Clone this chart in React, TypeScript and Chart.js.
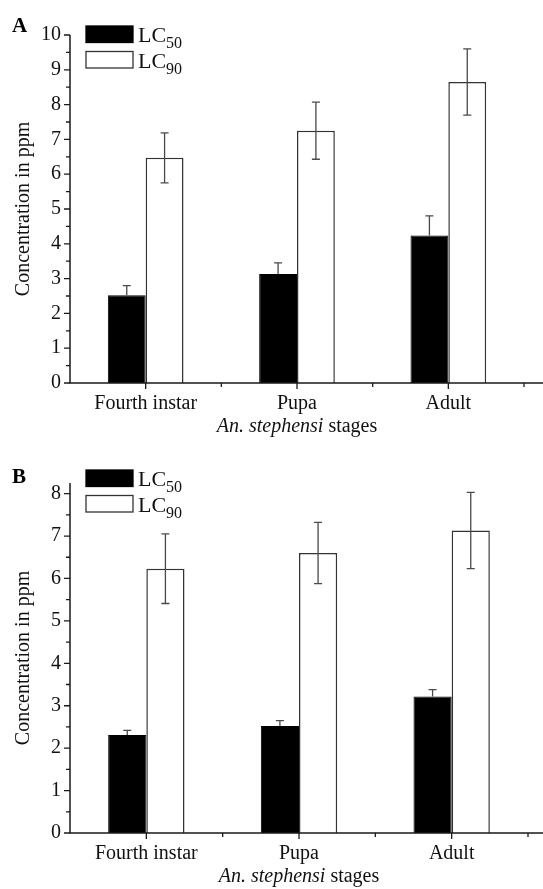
import React, { useEffect, useRef } from 'react';
import { Chart, registerables } from 'chart.js';

Chart.register(...registerables);

// ---- data ----
const categories = ['Fourth instar', 'Pupa', 'Adult'];
const seriesNames = ['50', '90']; // LC subscripts

const aLC50 = [2.52, 3.13, 4.24];
const aLC50Err = [0.28, 0.32, 0.56];
const aLC90 = [6.47, 7.25, 8.65];
const aLC90Err = [0.72, 0.82, 0.95];

const bLC50 = [2.31, 2.52, 3.22];
const bLC50Err = [0.11, 0.13, 0.16];
const bLC90 = [6.23, 6.6, 7.13];
const bLC90Err = [0.82, 0.72, 0.9];

const aYMax = 10;
const bYMax = 8.25;
const yStepMinor = 0.5;

const yTitle = 'Concentration in ppm';
const xTitleItalic = 'An. stephensi';
const xTitleNormal = ' stages';

const SERIF = '"Liberation Serif", "Times New Roman", serif';
const W = 543;

type PanelProps = {
  letter: string;
  lc50: number[];
  lc50Err: number[];
  lc90: number[];
  lc90Err: number[];
  yMax: number;
  height: number;
  chartTop: number;
  chartBottom: number;
  chartRight: number;
  letterBaseline: number;
  legendTop: number;
};

function makeDecor(p: PanelProps) {
  return {
    id: 'decor' + p.letter,
    afterDatasetsDraw(chart: any) {
      const ctx = chart.ctx;
      // error bars
      chart.data.datasets.forEach((ds: any, di: number) => {
        const meta = chart.getDatasetMeta(di);
        const ys = chart.scales.y;
        ds.data.forEach((v: number, j: number) => {
          const e = ds.errors[j];
          const bar = meta.data[j];
          const x = bar.x;
          const yTop = ys.getPixelForValue(v + e);
          const yBot = ds.filled ? ys.getPixelForValue(v) : ys.getPixelForValue(v - e);
          ctx.save();
          ctx.strokeStyle = '#4a4a4a';
          ctx.lineWidth = 1.3;
          ctx.beginPath();
          ctx.moveTo(x, yTop);
          ctx.lineTo(x, yBot);
          ctx.moveTo(x - 4, yTop);
          ctx.lineTo(x + 4, yTop);
          if (!ds.filled) {
            ctx.moveTo(x - 4, yBot);
            ctx.lineTo(x + 4, yBot);
          }
          ctx.stroke();
          ctx.restore();
        });
      });
    },
    afterDraw(chart: any) {
      const ctx = chart.ctx;
      const xs = chart.scales.x;
      const ys = chart.scales.y;
      const area = chart.chartArea;
      ctx.save();
      ctx.strokeStyle = '#1a1a1a';
      ctx.lineWidth = 1.5;
      // axis lines
      ctx.beginPath();
      ctx.moveTo(area.left, area.top);
      ctx.lineTo(area.left, area.bottom);
      ctx.lineTo(W, area.bottom);
      ctx.stroke();
      // y ticks
      ctx.lineWidth = 1.3;
      ctx.beginPath();
      ys.ticks.forEach((t: any) => {
        const v = t.value;
        if (Math.abs(v / yStepMinor - Math.round(v / yStepMinor)) > 1e-6) return;
        const y = ys.getPixelForValue(v);
        const len = Number.isInteger(v) ? 6 : 4;
        ctx.moveTo(area.left - len, y);
        ctx.lineTo(area.left, y);
      });
      // x ticks
      const n = chart.data.labels.length;
      for (let i = 0; i < n; i++) {
        const c = xs.getPixelForValue(i);
        ctx.moveTo(c, area.bottom);
        ctx.lineTo(c, area.bottom + 6);
        const b = xs.getPixelForValue(i + 0.5);
        ctx.moveTo(b, area.bottom);
        ctx.lineTo(b, area.bottom + 4);
      }
      ctx.stroke();
      ctx.restore();

      // x title with mixed styles
      ctx.save();
      ctx.fillStyle = '#111';
      ctx.textBaseline = 'middle';
      const fontI = `italic 20px ${SERIF}`;
      const fontN = `20px ${SERIF}`;
      ctx.font = fontI;
      const wI = ctx.measureText(xTitleItalic).width;
      ctx.font = fontN;
      const wN = ctx.measureText(xTitleNormal).width;
      const cx = (area.left + area.right) / 2;
      const ty = area.bottom + 44;
      const sx = cx - (wI + wN) / 2;
      ctx.textAlign = 'left';
      ctx.font = fontI;
      ctx.fillText(xTitleItalic, sx, ty);
      ctx.font = fontN;
      ctx.fillText(xTitleNormal, sx + wI, ty);
      ctx.restore();

      // legend
      ctx.save();
      const lx = area.left + 16;
      chart.data.datasets.forEach((ds: any, di: number) => {
        const ry = p.legendTop + di * 25.5;
        ctx.fillStyle = ds.filled ? '#000' : '#fff';
        ctx.fillRect(lx, ry, 47, 16.5);
        ctx.strokeStyle = ds.filled ? '#000' : '#333';
        ctx.lineWidth = 1.3;
        ctx.strokeRect(lx, ry, 47, 16.5);
        ctx.fillStyle = '#111';
        ctx.textAlign = 'left';
        ctx.textBaseline = 'alphabetic';
        ctx.font = `22px ${SERIF}`;
        const base = ry + 16;
        ctx.fillText('LC', lx + 52, base);
        const wl = ctx.measureText('LC').width;
        ctx.font = `16px ${SERIF}`;
        ctx.fillText(seriesNames[di], lx + 52 + wl, base + 6);
      });
      // panel letter
      ctx.fillStyle = '#000';
      ctx.font = `bold 21px ${SERIF}`;
      ctx.textAlign = 'left';
      ctx.textBaseline = 'alphabetic';
      ctx.fillText(p.letter, 12, p.letterBaseline);
      ctx.restore();
    },
  };
}

function Panel(p: PanelProps) {
  const ref = useRef<HTMLCanvasElement>(null);
  useEffect(() => {
    const canvas = ref.current!;
    const font = { family: SERIF, size: 20 };
    const chart = new Chart(canvas, {
      type: 'bar',
      data: {
        labels: categories,
        datasets: [
          {
            label: 'LC50',
            data: p.lc50,
            errors: p.lc50Err,
            filled: true,
            backgroundColor: '#000',
            borderColor: '#000',
            borderWidth: 1,
            barPercentage: 1,
            categoryPercentage: 0.5,
          } as any,
          {
            label: 'LC90',
            data: p.lc90,
            errors: p.lc90Err,
            filled: false,
            backgroundColor: '#fff',
            borderColor: '#333',
            borderWidth: 1.5,
            barPercentage: 1,
            categoryPercentage: 0.5,
          } as any,
        ],
      },
      options: {
        responsive: false,
        maintainAspectRatio: false,
        animation: false,
        events: [],
        layout: { padding: { left: 0, top: p.chartTop, right: W - p.chartRight, bottom: 0 } },
        plugins: { legend: { display: false }, tooltip: { enabled: false } },
        scales: {
          x: {
            grid: { display: false, drawTicks: false },
            border: { display: false },
            ticks: { font, color: '#111', padding: 9, autoSkip: false, maxRotation: 0 },
            afterFit: (s: any) => {
              s.height = p.height - p.chartBottom;
            },
          },
          y: {
            min: 0,
            max: p.yMax,
            grid: { display: false, drawTicks: false },
            border: { display: false },
            ticks: {
              stepSize: yStepMinor,
              includeBounds: false,
              autoSkip: false,
              font,
              color: '#111',
              padding: 9,
              callback: (v: any) => (Number.isInteger(v) ? String(v) : ''),
            },
            title: { display: true, text: yTitle, font, color: '#111', padding: { top: 12, bottom: 0 } },
            afterFit: (s: any) => {
              s.width = 70;
            },
          },
        },
      } as any,
      plugins: [makeDecor(p)],
    });
    return () => chart.destroy();
  }, []);
  return <canvas ref={ref} width={W} height={p.height} style={{ display: 'block', width: W, height: p.height }} />;
}

export default function App() {
  return (
    <div style={{ position: 'absolute', left: 0, top: 0, width: W, height: 889, background: '#fff' }}>
      <Panel
        letter="A"
        lc50={aLC50}
        lc50Err={aLC50Err}
        lc90={aLC90}
        lc90Err={aLC90Err}
        yMax={aYMax}
        height={444}
        chartTop={35}
        chartBottom={383}
        chartRight={524}
        letterBaseline={32}
        legendTop={26}
      />
      <Panel
        letter="B"
        lc50={bLC50}
        lc50Err={bLC50Err}
        lc90={bLC90}
        lc90Err={bLC90Err}
        yMax={bYMax}
        height={445}
        chartTop={39}
        chartBottom={389}
        chartRight={528}
        letterBaseline={39}
        legendTop={26}
      />
    </div>
  );
}
